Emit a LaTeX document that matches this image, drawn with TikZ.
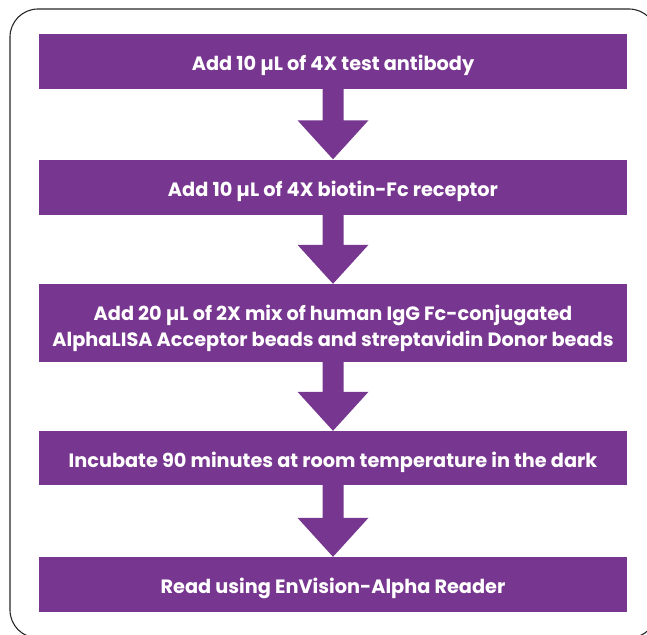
\documentclass[tikz,border=0pt]{standalone}
\usepackage{fontspec}
\setmainfont{Poppins}
\usetikzlibrary{calc}
\definecolor{stepcol}{RGB}{119,54,143}
\tikzset{
  stepbox/.style={rectangle, fill=stepcol, text=white, font=\fontsize{19.3}{26}\selectfont\bfseries,
    minimum width=588, minimum height=55, align=center, inner sep=0pt,
    text height=18pt, text depth=0pt},
  flowarrow/.style={fill=stepcol}
}
% block arrow from the bottom of one step to the top of the next
\newcommand{\blockarrow}[2]{%
  \fill[flowarrow] ($(#1.south)+(-10.5,0)$) -- ($(#1.south)+(10.5,0)$)
    -- ($(#2.north)+(10.5,-39)$) -- ($(#2.north)+(35.5,-39)$) -- (#2.north)
    -- ($(#2.north)+(-35.5,-39)$) -- ($(#2.north)+(-10.5,-39)$) -- cycle;}
\begin{document}
\begin{tikzpicture}[x=1pt, y=-1pt, line join=round]
  \useasboundingbox (0,0) rectangle (647,634);
  \begin{scope}
    \clip (0,0) rectangle (647,634);
    \draw[black!85, line width=1.1pt, rounded corners=28] (10,9) rectangle (657,638);
  \end{scope}
  \node[stepbox] (add1) at (333,61.5) {Add 10 µL of 4X test antibody};
  \node[stepbox] (add2) at (333,187) {Add 10 µL of 4X biotin-Fc receptor};
  \node[stepbox, minimum height=78, text height=46pt] (add3) at (333,323)
    {Add 20 µL of 2X mix of human IgG Fc-conjugated\\AlphaLISA Acceptor beads and streptavidin Donor beads};
  \node[stepbox, minimum height=54] (incub) at (333,458) {Incubate 90 minutes at room temperature in the dark};
  \node[stepbox] (read) at (333,584.5) {Read using EnVision-Alpha Reader};
  \blockarrow{add1}{add2}
  \blockarrow{add2}{add3}
  \blockarrow{add3}{incub}
  \blockarrow{incub}{read}
\end{tikzpicture}
\end{document}
